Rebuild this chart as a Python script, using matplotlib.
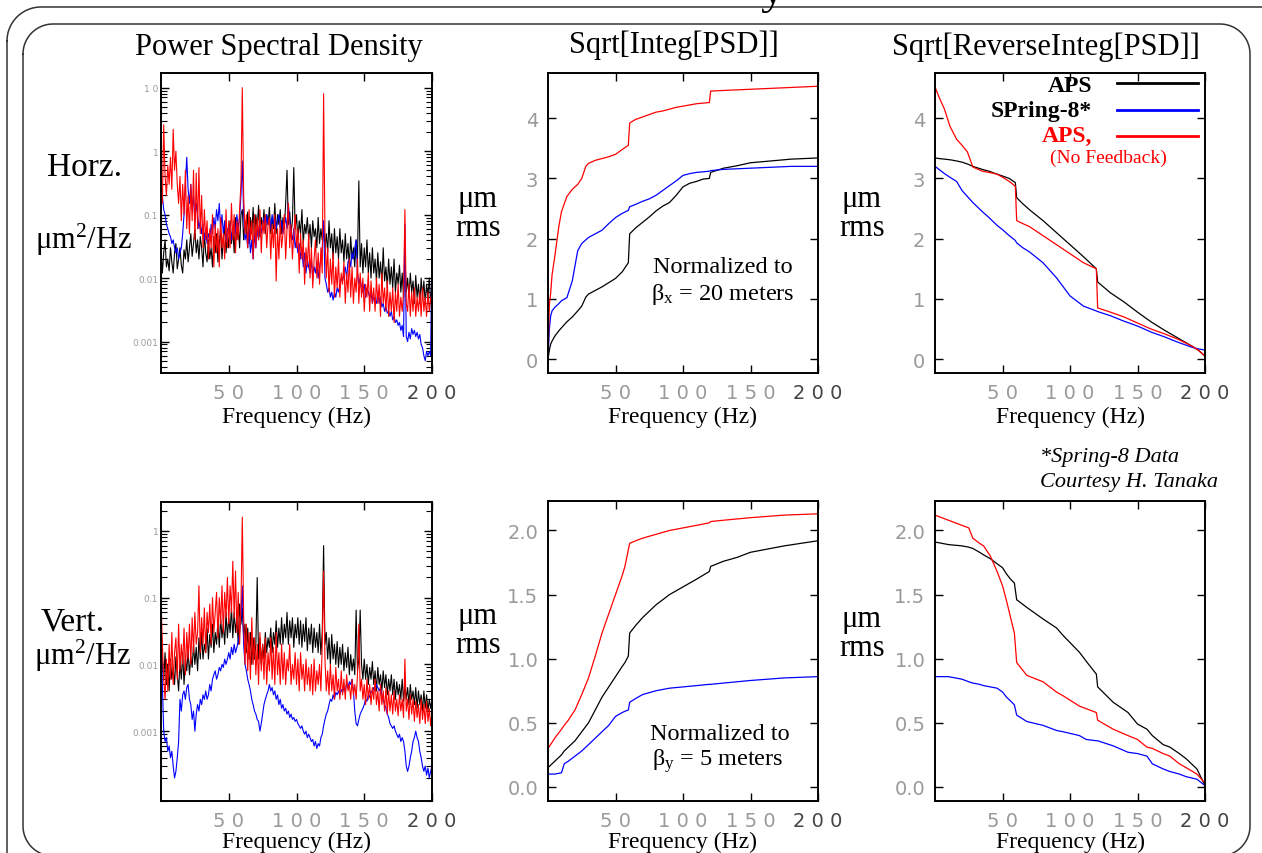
import matplotlib
matplotlib.use("Agg")
import matplotlib.pyplot as plt
from matplotlib.ticker import LogLocator, NullFormatter, FixedLocator
import numpy as np

W, H = 1262, 854
SERIF = "Liberation Serif"
plt.rcParams.update({"font.family": SERIF, "mathtext.fontset": "custom",
                     "mathtext.rm": SERIF, "mathtext.it": SERIF + ":italic",
                     "mathtext.bf": SERIF + ":bold"})
BLACK, BLUE, RED, GRAY = "#000000", "#0000ff", "#ff0000", "#9a9a9a"

# ---- PSD (um^2/Hz) on a 1 Hz grid ----
psd_f = np.arange(0, 201)

h_aps = [0.03, 0.012, 0.025, 0.04, 0.015, 0.02, 0.013, 0.03, 0.018, 0.012,
         0.025, 0.035, 0.014, 0.02, 0.03, 0.016, 0.012, 0.028, 0.02, 0.04,
         0.018, 0.03, 0.05, 0.022, 0.035, 0.06, 0.025, 0.04, 0.02, 0.045,
         0.03, 0.015, 0.05, 0.025, 0.018, 0.04, 0.02, 0.03, 0.015, 0.045,
         0.025, 0.05, 0.018, 0.035, 0.06, 0.02, 0.04, 0.07, 0.025, 0.05,
         0.03, 0.08, 0.035, 0.06, 0.025, 0.09, 0.04, 0.07, 0.03, 0.1,
         0.12, 0.04, 0.08, 0.05, 0.11, 0.035, 0.09, 0.05, 0.13, 0.04,
         0.1, 0.06, 0.14, 0.045, 0.09, 0.06, 0.12, 0.05, 0.1, 0.07,
         0.13, 0.05, 0.09, 0.06, 0.15, 0.05, 0.1, 0.07, 0.12, 0.05,
         0.09, 0.06, 0.15, 0.5, 0.07, 0.11, 0.05, 0.08, 0.55, 0.06,
         0.1, 0.04, 0.08, 0.05, 0.12, 0.035, 0.07, 0.05, 0.09, 0.04,
         0.07, 0.03, 0.08, 0.045, 0.06, 0.03, 0.09, 0.035, 0.06, 0.04,
         0.07, 0.03, 0.05, 0.025, 0.08, 0.03, 0.05, 0.02, 0.06, 0.025,
         0.045, 0.02, 0.06, 0.025, 0.04, 0.018, 0.05, 0.02, 0.035, 0.015,
         0.045, 0.02, 0.03, 0.015, 0.04, 0.02, 0.34, 0.015, 0.035, 0.012,
         0.03, 0.015, 0.04, 0.012, 0.025, 0.01, 0.03, 0.012, 0.02, 0.009,
         0.025, 0.01, 0.018, 0.008, 0.03, 0.009, 0.015, 0.007, 0.02, 0.008,
         0.015, 0.007, 0.02, 0.006, 0.012, 0.008, 0.016, 0.006, 0.012, 0.005,
         0.02, 0.006, 0.01, 0.005, 0.012, 0.006, 0.009, 0.004, 0.011, 0.005,
         0.008, 0.004, 0.01, 0.005, 0.009, 0.004, 0.008, 0.005, 0.01, 0.004,
         0.007]
h_nofb = [0.3, 0.15, 2.6, 0.4, 0.2, 0.6, 0.3, 0.8, 0.25, 2.2,
          0.5, 1.0, 0.3, 0.15, 0.4, 0.08, 0.3, 0.1, 0.5, 0.06,
          0.2, 0.05, 0.3, 0.08, 0.5, 0.04, 0.45, 0.06, 0.55, 0.05,
          0.2, 0.03, 0.12, 0.04, 0.08, 0.02, 0.06, 0.03, 0.1, 0.015,
          0.07, 0.025, 0.06, 0.015, 0.09, 0.03, 0.05, 0.02, 0.12, 0.03,
          0.08, 0.03, 0.15, 0.04, 0.1, 0.025, 0.08, 0.04, 0.12, 0.3,
          10.0, 0.2, 0.05, 0.1, 0.03, 0.12, 0.04, 0.08, 0.02, 0.1,
          0.03, 0.09, 0.04, 0.12, 0.025, 0.08, 0.05, 0.1, 0.03, 0.07,
          0.09, 0.02, 0.07, 0.03, 0.1, 0.009, 0.06, 0.02, 0.08, 0.03,
          0.05, 0.1, 0.02, 0.06, 0.15, 0.03, 0.07, 0.02, 0.05, 0.1,
          0.03, 0.06, 0.012, 0.05, 0.02, 0.04, 0.008, 0.03, 0.015, 0.05,
          0.01, 0.03, 0.007, 0.02, 0.04, 0.01, 0.025, 0.008, 0.03, 0.012,
          8.0, 0.05, 0.01, 0.03, 0.006, 0.02, 0.008, 0.025, 0.005, 0.015,
          0.007, 0.02, 0.005, 0.012, 0.008, 0.018, 0.004, 0.012, 0.006, 0.02,
          0.005, 0.015, 0.004, 0.01, 0.006, 0.02, 0.004, 0.012, 0.005, 0.01,
          0.003, 0.008, 0.005, 0.012, 0.003, 0.009, 0.004, 0.007, 0.003, 0.01,
          0.004, 0.008, 0.0025, 0.012, 0.004, 0.007, 0.003, 0.009, 0.0025, 0.006,
          0.003, 0.007, 0.002, 0.006, 0.003, 0.008, 0.0025, 0.005, 0.003, 0.006,
          0.12, 0.004, 0.003, 0.008, 0.0025, 0.006, 0.003, 0.007, 0.0025, 0.005,
          0.003, 0.006, 0.0025, 0.007, 0.003, 0.005, 0.0025, 0.006, 0.003, 0.005,
          0.004]
h_spring8 = [0.35, 0.2, 0.12, 0.1, 0.07, 0.06, 0.05, 0.045, 0.035, 0.04,
             0.03, 0.025, 0.03, 0.02, 0.025, 0.03, 0.05, 0.1, 0.3, 0.8,
             0.25, 0.15, 0.3, 0.12, 0.2, 0.08, 0.15, 0.1, 0.06, 0.08,
             0.05, 0.07, 0.04, 0.06, 0.035, 0.05, 0.04, 0.07, 0.05, 0.09,
             0.06, 0.12, 0.08, 0.15, 0.06, 0.1, 0.05, 0.08, 0.04, 0.06,
             0.05, 0.07, 0.04, 0.06, 0.08, 0.05, 0.1, 0.06, 0.09, 0.2,
             0.7, 0.1, 0.04, 0.05, 0.03, 0.06, 0.025, 0.04, 0.02, 0.05,
             0.03, 0.06, 0.04, 0.08, 0.05, 0.07, 0.09, 0.06, 0.1, 0.07,
             0.09, 0.06, 0.1, 0.07, 0.09, 0.06, 0.08, 0.1, 0.06, 0.08,
             0.05, 0.07, 0.09, 0.06, 0.15, 0.08, 0.05, 0.04, 0.06, 0.03,
             0.04, 0.025, 0.035, 0.02, 0.03, 0.015, 0.025, 0.012, 0.02, 0.015,
             0.012, 0.02, 0.01, 0.015, 0.012, 0.018, 0.01, 0.015, 0.02, 0.03,
             0.08, 0.01, 0.008, 0.006, 0.007, 0.005, 0.006, 0.0045, 0.006, 0.005,
             0.007, 0.006, 0.008, 0.01, 0.009, 0.012, 0.015, 0.01, 0.018, 0.02,
             0.015, 0.025, 0.02, 0.03, 0.04, 0.012, 0.008, 0.01, 0.007, 0.006,
             0.008, 0.005, 0.007, 0.006, 0.005, 0.006, 0.004, 0.005, 0.0045, 0.004,
             0.006, 0.004, 0.005, 0.0035, 0.004, 0.003, 0.0035, 0.0028, 0.003, 0.0025,
             0.003, 0.0022, 0.0025, 0.002, 0.0022, 0.0018, 0.002, 0.0015, 0.0018, 0.0012,
             0.07, 0.0012, 0.001, 0.0014, 0.0011, 0.0016, 0.0013, 0.0015, 0.0012, 0.0014,
             0.0011, 0.0013, 0.0009, 0.0008, 0.0006, 0.0005, 0.0007, 0.0006, 0.0007, 0.0006,
             0.04]

v_aps = [0.05, 0.01, 0.006, 0.015, 0.005, 0.01, 0.004, 0.012, 0.006, 0.009,
         0.005, 0.013, 0.007, 0.004, 0.011, 0.006, 0.015, 0.005, 0.012, 0.008,
         0.016, 0.007, 0.013, 0.009, 0.02, 0.01, 0.018, 0.008, 0.025, 0.012,
         0.03, 0.012, 0.02, 0.015, 0.035, 0.012, 0.028, 0.018, 0.04, 0.015,
         0.03, 0.02, 0.045, 0.018, 0.05, 0.025, 0.04, 0.02, 0.06, 0.025,
         0.05, 0.03, 0.07, 0.025, 0.06, 0.03, 0.05, 0.02, 0.08, 0.04,
         0.07, 0.025, 0.04, 0.015, 0.035, 0.012, 0.03, 0.01, 0.025, 0.012,
         0.02, 0.2, 0.012, 0.025, 0.01, 0.02, 0.012, 0.03, 0.015, 0.025,
         0.018, 0.035, 0.015, 0.03, 0.02, 0.045, 0.018, 0.035, 0.02, 0.05,
         0.02, 0.04, 0.025, 0.06, 0.02, 0.045, 0.025, 0.05, 0.018, 0.04,
         0.025, 0.05, 0.02, 0.045, 0.018, 0.04, 0.022, 0.05, 0.016, 0.035,
         0.02, 0.04, 0.015, 0.035, 0.018, 0.03, 0.015, 0.04, 0.014, 0.03,
         0.6, 0.02, 0.03, 0.012, 0.025, 0.01, 0.028, 0.012, 0.02, 0.01,
         0.022, 0.009, 0.018, 0.01, 0.02, 0.008, 0.015, 0.009, 0.018, 0.007,
         0.014, 0.008, 0.012, 0.007, 0.065, 0.008, 0.012, 0.065, 0.01, 0.006,
         0.012, 0.006, 0.01, 0.005, 0.009, 0.006, 0.011, 0.005, 0.008, 0.004,
         0.009, 0.005, 0.007, 0.004, 0.008, 0.0045, 0.007, 0.0035, 0.006, 0.004,
         0.007, 0.0035, 0.006, 0.003, 0.0055, 0.0035, 0.005, 0.003, 0.006, 0.0028,
         0.005, 0.003, 0.0045, 0.0025, 0.005, 0.003, 0.004, 0.0025, 0.0045, 0.0022,
         0.004, 0.0025, 0.0035, 0.002, 0.004, 0.0022, 0.0035, 0.002, 0.003, 0.0022,
         0.003]
v_nofb = [0.1, 0.02, 0.006, 0.003, 0.012, 0.004, 0.02, 0.006, 0.03, 0.005,
          0.015, 0.025, 0.006, 0.04, 0.008, 0.02, 0.01, 0.035, 0.007, 0.03,
          0.012, 0.04, 0.01, 0.05, 0.015, 0.06, 0.02, 0.03, 0.15, 0.015,
          0.05, 0.02, 0.07, 0.015, 0.06, 0.03, 0.08, 0.02, 0.1, 0.03,
          0.06, 0.12, 0.025, 0.1, 0.04, 0.15, 0.03, 0.12, 0.05, 0.2,
          0.04, 0.15, 0.06, 0.35, 0.05, 0.25, 0.03, 0.12, 0.02, 0.08,
          1.6, 0.05, 0.01, 0.04, 0.008, 0.03, 0.006, 0.05, 0.01, 0.025,
          0.007, 0.02, 0.005, 0.03, 0.008, 0.02, 0.006, 0.025, 0.005, 0.015,
          0.008, 0.025, 0.006, 0.018, 0.005, 0.03, 0.007, 0.015, 0.005, 0.02,
          0.006, 0.015, 0.005, 0.012, 0.008, 0.02, 0.005, 0.01, 0.006, 0.015,
          0.005, 0.012, 0.004, 0.015, 0.006, 0.01, 0.004, 0.012, 0.005, 0.009,
          0.004, 0.01, 0.0035, 0.012, 0.004, 0.008, 0.005, 0.01, 0.004, 0.02,
          0.25, 0.012, 0.004, 0.008, 0.0035, 0.01, 0.004, 0.007, 0.003, 0.009,
          0.004, 0.006, 0.003, 0.008, 0.0035, 0.006, 0.003, 0.007, 0.004, 0.005,
          0.003, 0.006, 0.0035, 0.005, 0.003, 0.007, 0.04, 0.004, 0.006, 0.003,
          0.005, 0.0025, 0.006, 0.003, 0.005, 0.0025, 0.0045, 0.003, 0.006, 0.0025,
          0.004, 0.002, 0.005, 0.0025, 0.004, 0.002, 0.0045, 0.0018, 0.004, 0.002,
          0.0035, 0.0018, 0.004, 0.002, 0.003, 0.0017, 0.0035, 0.002, 0.003, 0.0016,
          0.012, 0.002, 0.003, 0.0015, 0.0035, 0.0018, 0.003, 0.0014, 0.0028, 0.0016,
          0.0025, 0.0013, 0.003, 0.0015, 0.0025, 0.0013, 0.0028, 0.0014, 0.0022, 0.0012,
          0.002]
v_spring8 = [0.03, 0.005, 0.001, 0.0007, 0.0008, 0.0005, 0.0006, 0.0004, 0.0005, 0.0003,
             0.0002, 0.00025, 0.0004, 0.0007, 0.003, 0.002, 0.0035, 0.004, 0.003, 0.0045,
             0.005, 0.003, 0.0025, 0.0015, 0.002, 0.001, 0.0018, 0.0025, 0.002, 0.003,
             0.0025, 0.0035, 0.003, 0.004, 0.003, 0.0035, 0.005, 0.004, 0.006, 0.007,
             0.008, 0.006, 0.007, 0.009, 0.008, 0.01, 0.009, 0.012, 0.01, 0.012,
             0.015, 0.012, 0.018, 0.014, 0.02, 0.015, 0.018, 0.022, 0.03, 0.05,
             0.15, 0.02, 0.01, 0.008, 0.006, 0.005, 0.004, 0.003, 0.0025, 0.002,
             0.0018, 0.0015, 0.0014, 0.001, 0.0013, 0.0018, 0.0025, 0.003, 0.0035, 0.004,
             0.005, 0.004, 0.0045, 0.0035, 0.004, 0.003, 0.0035, 0.0025, 0.003, 0.0022,
             0.0025, 0.002, 0.0022, 0.0018, 0.002, 0.0016, 0.0018, 0.0015, 0.0016, 0.0014,
             0.0015, 0.0013, 0.0012, 0.0011, 0.0012, 0.001, 0.0009, 0.001, 0.0008, 0.0009,
             0.0008, 0.0007, 0.00075, 0.0006, 0.0007, 0.00055, 0.00065, 0.0006, 0.0008, 0.0009,
             0.0012, 0.0015, 0.0018, 0.002, 0.0025, 0.003, 0.0028, 0.0035, 0.003, 0.0038,
             0.0035, 0.004, 0.0035, 0.0042, 0.0038, 0.0045, 0.004, 0.005, 0.0045, 0.0055,
             0.005, 0.006, 0.004, 0.002, 0.0013, 0.0012, 0.0015, 0.0018, 0.002, 0.0022,
             0.0025, 0.003, 0.0028, 0.0035, 0.0032, 0.004, 0.0038, 0.0045, 0.004, 0.005,
             0.0045, 0.004, 0.0045, 0.0035, 0.003, 0.0025, 0.0022, 0.0018, 0.0016, 0.0013,
             0.0012, 0.0011, 0.0012, 0.001, 0.0009, 0.0008, 0.0009, 0.0007, 0.0008, 0.0007,
             0.0005, 0.0003, 0.00025, 0.0003, 0.0004, 0.0005, 0.0007, 0.0008, 0.001, 0.0008,
             0.0007, 0.0005, 0.0004, 0.0003, 0.00025, 0.0003, 0.00022, 0.00028, 0.0002, 0.00025,
             0.0003]

# ---- Sqrt[Integ[PSD]] horizontal (um rms) ----
hint_f = [0, 1, 2, 3, 5, 8, 10, 14, 18, 22, 25, 28, 30, 35, 40, 45, 50, 55, 59.5, 60.5,
          65, 70, 75, 80, 85, 90, 95, 100, 105, 110, 115, 119.5, 120.5, 130, 140, 150,
          160, 170, 180, 190, 200]
hint_aps = [0, 0.15, 0.25, 0.3, 0.38, 0.47, 0.52, 0.62, 0.7, 0.8, 0.88, 1.03, 1.08, 1.14,
            1.2, 1.27, 1.34, 1.45, 1.6, 2.08, 2.18, 2.27, 2.36, 2.46, 2.54, 2.6, 2.72,
            2.86, 2.92, 2.95, 2.99, 3.0, 3.1, 3.17, 3.21, 3.26, 3.28, 3.3, 3.32, 3.33, 3.34]
hint_spring8 = [0, 0.5, 0.72, 0.8, 0.86, 0.92, 0.97, 1.02, 1.3, 1.8, 1.92, 1.98, 2.02,
                2.08, 2.14, 2.25, 2.35, 2.42, 2.47, 2.53, 2.57, 2.62, 2.66, 2.72, 2.8,
                2.88, 2.96, 3.05, 3.08, 3.1, 3.11, 3.12, 3.13, 3.15, 3.16, 3.17, 3.18,
                3.19, 3.2, 3.2, 3.2]
hint_nofb = [0, 0.9, 1.1, 1.4, 1.7, 2.2, 2.45, 2.7, 2.82, 2.9, 3.0, 3.2, 3.25, 3.3, 3.33,
             3.36, 3.4, 3.48, 3.55, 3.92, 3.98, 4.02, 4.06, 4.1, 4.12, 4.15, 4.18, 4.2,
             4.22, 4.24, 4.25, 4.26, 4.45, 4.46, 4.47, 4.48, 4.49, 4.5, 4.51, 4.52, 4.53]

# ---- Sqrt[ReverseInteg[PSD]] horizontal ----
hrev_f = [0, 3, 7, 11, 16, 20, 24, 28, 35, 40, 46, 50, 55, 59.5, 60.5, 65, 70, 80, 90,
          100, 110, 119.5, 120.5, 130, 140, 150, 160, 170, 180, 190, 195, 200]
hrev_aps = [3.34, 3.33, 3.32, 3.31, 3.29, 3.27, 3.24, 3.2, 3.15, 3.12, 3.07, 3.04, 3.0,
            2.93, 2.68, 2.58, 2.48, 2.3, 2.1, 1.9, 1.7, 1.5, 1.28, 1.1, 0.95, 0.78, 0.62,
            0.48, 0.35, 0.22, 0.15, 0.05]
hrev_spring8 = [3.2, 3.15, 3.08, 3.02, 2.95, 2.8, 2.7, 2.6, 2.45, 2.35, 2.22, 2.15, 2.05,
                1.97, 1.93, 1.85, 1.78, 1.6, 1.35, 1.05, 0.88, 0.8, 0.79, 0.72, 0.63, 0.55,
                0.45, 0.37, 0.28, 0.2, 0.17, 0.15]
hrev_nofb = [4.52, 4.35, 4.15, 3.87, 3.65, 3.55, 3.44, 3.19, 3.12, 3.1, 3.07, 3.02, 2.95,
             2.87, 2.3, 2.25, 2.2, 2.05, 1.9, 1.75, 1.6, 1.5, 0.85, 0.78, 0.7, 0.6, 0.5,
             0.42, 0.33, 0.22, 0.15, 0.05]

# ---- Sqrt[Integ[PSD]] vertical ----
vint_f = [0, 5, 10, 12, 15, 20, 25, 30, 35, 40, 45, 50, 55, 57, 59.5, 60.5, 65, 70, 80,
          90, 100, 110, 119.5, 120.5, 130, 140, 150, 175, 200]
vint_aps = [0.15, 0.2, 0.25, 0.28, 0.31, 0.36, 0.43, 0.5, 0.6, 0.7, 0.78, 0.86, 0.94,
            0.97, 1.02, 1.2, 1.26, 1.32, 1.42, 1.5, 1.56, 1.62, 1.68, 1.72, 1.76, 1.79,
            1.83, 1.88, 1.92]
vint_spring8 = [0.1, 0.1, 0.11, 0.18, 0.2, 0.24, 0.28, 0.33, 0.38, 0.43, 0.48, 0.55, 0.58,
                0.59, 0.6, 0.66, 0.69, 0.72, 0.75, 0.77, 0.78, 0.79, 0.8, 0.8, 0.81, 0.82,
                0.83, 0.85, 0.86]
vint_nofb = [0.3, 0.38, 0.45, 0.48, 0.52, 0.6, 0.72, 0.85, 1.02, 1.2, 1.35, 1.5, 1.65,
             1.72, 1.85, 1.9, 1.92, 1.94, 1.97, 2.0, 2.02, 2.04, 2.06, 2.07, 2.08, 2.09,
             2.1, 2.12, 2.13]

# ---- Sqrt[ReverseInteg[PSD]] vertical ----
vrev_f = [0, 10, 20, 25, 28, 33, 36, 41, 46, 50, 53, 56, 58.8, 60.5, 68, 80, 90, 95, 107,
          112, 119.5, 120.5, 132, 143, 150, 157, 161, 169, 174, 181, 186, 194, 200]
vrev_aps = [1.91, 1.89, 1.88, 1.87, 1.86, 1.83, 1.81, 1.78, 1.74, 1.71, 1.66, 1.62, 1.59,
            1.46, 1.4, 1.31, 1.24, 1.18, 1.05, 0.98, 0.88, 0.78, 0.66, 0.58, 0.49, 0.45,
            0.4, 0.33, 0.31, 0.26, 0.22, 0.14, 0.01]
vrev_spring8 = [0.86, 0.86, 0.84, 0.82, 0.81, 0.8, 0.79, 0.78, 0.77, 0.74, 0.7, 0.67, 0.64,
                0.56, 0.51, 0.48, 0.44, 0.43, 0.4, 0.37, 0.36, 0.36, 0.32, 0.27, 0.26,
                0.24, 0.18, 0.14, 0.12, 0.1, 0.08, 0.06, 0.01]
vrev_nofb = [2.12, 2.08, 2.04, 2.02, 1.94, 1.9, 1.88, 1.8, 1.68, 1.57, 1.45, 1.32, 1.2,
             0.97, 0.87, 0.82, 0.74, 0.71, 0.63, 0.61, 0.58, 0.52, 0.45, 0.4, 0.37, 0.31,
             0.3, 0.26, 0.24, 0.18, 0.15, 0.1, 0.03]

x_ticks = [50, 100, 150, 200]
x_ticklabels = ["5 0", "1 0 0", "1 5 0", "2 0 0"]

fig = plt.figure(figsize=(W / 100, H / 100), dpi=100)
bg = fig.add_axes([0, 0, 1, 1])
bg.set_xlim(0, W); bg.set_ylim(H, 0); bg.axis("off")


def frame(x0, y0, x1, y1, r):
    # rounded slide frame, pixel coords with y pointing down
    t = np.linspace(0, np.pi / 2, 24)
    xs, ys = [], []
    for cx, cy, a0 in [(x0 + r, y0 + r, np.pi), (x1 - r, y0 + r, 1.5 * np.pi),
                       (x1 - r, y1 - r, 0.0), (x0 + r, y1 - r, 0.5 * np.pi)]:
        xs += list(cx + r * np.cos(a0 + t))
        ys += list(cy + r * np.sin(a0 + t))
    bg.plot(xs + xs[:1], ys + ys[:1], color="#333333", lw=1.1, clip_on=False)


frame(7, 8, 1300, 960, 34)
frame(23, 25, 1250, 857, 30)
bg.text(772, 3, "y", fontsize=34, ha="center", va="baseline")


def box(x0, y0, x1, y1):
    return fig.add_axes([x0 / W, 1 - y1 / H, (x1 - x0) / W, (y1 - y0) / H])


def style(ax):
    ax.set_facecolor("none")
    ax.set_xlim(0, 200)
    ax.set_xticks(x_ticks)
    ax.set_xticklabels(x_ticklabels, fontsize=14, family="DejaVu Sans")
    for lab, c in zip(ax.get_xticklabels(), [GRAY, GRAY, GRAY, "#444444"]):
        lab.set_color(c)
    ax.tick_params(direction="in", top=True, right=True, length=6, width=1)
    ax.tick_params(axis="x", pad=7)
    for s in ax.spines.values():
        s.set_linewidth(1.4)


def psd_panel(ax, ylo, yhi, yt, ytl, series):
    for vals, c in series:
        ax.plot(psd_f, vals, color=c, lw=0.8)
    ax.set_yscale("log")
    ax.set_ylim(ylo, yhi)
    style(ax)
    ax.yaxis.set_major_locator(FixedLocator(yt))
    ax.set_yticklabels(ytl, fontsize=6.5, family="DejaVu Sans", color=GRAY)
    ax.yaxis.set_minor_locator(LogLocator(base=10, subs=np.arange(2, 10), numticks=20))
    ax.yaxis.set_minor_formatter(NullFormatter())
    ax.tick_params(axis="y", which="minor", direction="in", right=True, length=4, width=0.8)
    ax.tick_params(axis="y", which="major", pad=2)


def lin_panel(ax, ylim, yt, ytl, xs, series):
    for vals, c in series:
        ax.plot(xs, vals, color=c, lw=0.9)
    ax.set_ylim(*ylim)
    style(ax)
    ax.set_yticks(yt)
    ax.set_yticklabels(ytl, fontsize=14, family="DejaVu Sans", color=GRAY)
    ax.tick_params(axis="y", pad=7)


a1 = box(161, 74, 432, 374)
psd_panel(a1, 3.2e-4, 17, [1e-3, 1e-2, 1e-1, 1, 10], ["0.001", "0.01", "0.1", "1", "1 0"],
          [(h_aps, BLACK), (h_spring8, BLUE), (h_nofb, RED)])
a2 = box(548, 74, 818, 374)
lin_panel(a2, (-0.23, 4.75), [0, 1, 2, 3, 4], ["0", "1", "2", "3", "4"], hint_f,
          [(hint_aps, BLACK), (hint_spring8, BLUE), (hint_nofb, RED)])
a3 = box(935, 74, 1205, 374)
lin_panel(a3, (-0.23, 4.75), [0, 1, 2, 3, 4], ["0", "1", "2", "3", "4"], hrev_f,
          [(hrev_aps, BLACK), (hrev_spring8, BLUE), (hrev_nofb, RED)])
a4 = box(161, 503, 432, 802)
psd_panel(a4, 9e-5, 2.7, [1e-3, 1e-2, 1e-1, 1], ["0.001", "0.01", "0.1", "1"],
          [(v_aps, BLACK), (v_spring8, BLUE), (v_nofb, RED)])
a5 = box(548, 502, 818, 802)
lin_panel(a5, (-0.11, 2.23), [0, 0.5, 1, 1.5, 2], ["0.0", "0.5", "1.0", "1.5", "2.0"], vint_f,
          [(vint_aps, BLACK), (vint_spring8, BLUE), (vint_nofb, RED)])
a6 = box(935, 502, 1205, 802)
lin_panel(a6, (-0.11, 2.23), [0, 0.5, 1, 1.5, 2], ["0.0", "0.5", "1.0", "1.5", "2.0"], vrev_f,
          [(vrev_aps, BLACK), (vrev_spring8, BLUE), (vrev_nofb, RED)])

# headers and labels
T = dict(ha="center", va="center")
bg.text(279, 47, "Power Spectral Density", fontsize=22, **T)
bg.text(674, 45, "Sqrt[Integ[PSD]]", fontsize=22, **T)
bg.text(1046, 47, "Sqrt[ReverseInteg[PSD]]", fontsize=22, **T)
for cx in (296, 683, 1070):
    bg.text(cx, 417, "Frequency (Hz)", fontsize=17, **T)
    bg.text(cx, 842, "Frequency (Hz)", fontsize=17, **T)
bg.text(85, 168, "Horz.", fontsize=24, **T)
bg.text(83, 240, "μm$^\\mathregular{2}$/Hz", fontsize=22, **T)
bg.text(73, 622, "Vert.", fontsize=24, **T)
bg.text(82, 656, "μm$^\\mathregular{2}$/Hz", fontsize=22, **T)
for cx, y1 in [(478, 200), (862, 200), (478, 617), (862, 620)]:
    bg.text(cx, y1, "μm", fontsize=22, **T)
    bg.text(cx, y1 + 29, "rms", fontsize=22, **T)
bg.text(723, 268, "Normalized to", fontsize=17.5, **T)
bg.text(723, 295, "β$_\\mathregular{x}$ = 20 meters", fontsize=17.5, **T)
bg.text(720, 735, "Normalized to", fontsize=17.5, **T)
bg.text(718, 761, "β$_\\mathregular{y}$ = 5 meters", fontsize=17.5, **T)

# legend
for y, lab, c in [(86, "APS", BLACK), (111, "SPring-8*", BLACK), (136, "APS,", RED)]:
    bg.text(1092, y, lab, fontsize=17, fontweight="bold", color=c, ha="right", va="center")
for y, c in [(84, BLACK), (111, BLUE), (137, RED)]:
    bg.plot([1117, 1198], [y, y], color=c, lw=2)
bg.text(1108, 158, "(No Feedback)", fontsize=14, color=RED, **T)
bg.text(1040, 458, "*Spring-8 Data", fontsize=16, style="italic", ha="left", va="center")
bg.text(1040, 483, "Courtesy H. Tanaka", fontsize=16, style="italic", ha="left", va="center")

fig.savefig("out.png", dpi=100)
